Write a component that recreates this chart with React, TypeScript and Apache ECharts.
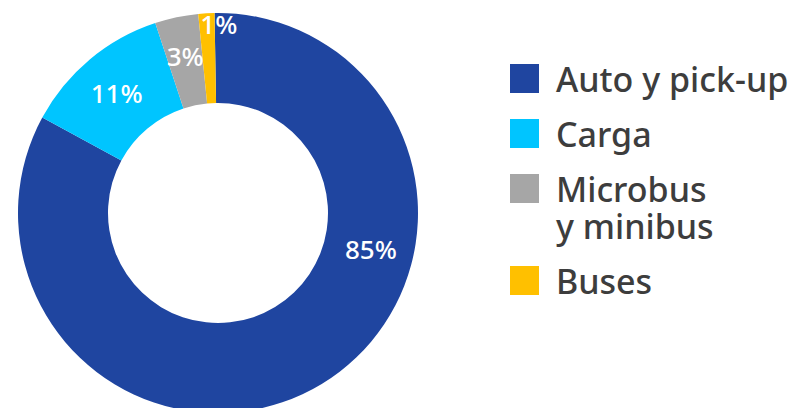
import React, { useEffect, useRef } from "react";
import * as echarts from "echarts";

const categories = ["Auto y pick-up", "Carga", "Microbus\ny minibus", "Buses"];
const shares = [83.2, 12.0, 3.5, 1.3];
const shareLabels = ["85%", "11%", "3%", "1%"];
const colors = ["#1F45A0", "#00C5FF", "#A6A6A6", "#FFC000"];
const labelShift = [
  [71, -99],
  [0, 1],
  [0, -2],
  [10, -31],
];

export default function App() {
  const ref = useRef<HTMLDivElement>(null);

  useEffect(() => {
    if (!ref.current) return;
    const chart = echarts.init(ref.current, undefined, { renderer: "svg" });

    const rich: Record<string, any> = {
      t: {
        fontSize: 34,
        fontFamily: "Noto Sans",
        fontWeight: 500,
        color: "#3d3d3d",
        lineHeight: 37,
      },
      g: { width: 17, height: 29, lineHeight: 37 },
      ind: { width: 46, height: 29, lineHeight: 37 },
    };
    colors.forEach((c, i) => {
      rich["sq" + i] = { width: 29, height: 29, backgroundColor: c, lineHeight: 37 };
    });

    chart.setOption({
      animation: false,
      backgroundColor: "#ffffff",
      legend: {
        orient: "vertical",
        left: 505,
        top: 60,
        padding: 0,
        itemWidth: 0,
        itemHeight: 0,
        itemGap: 18,
        selectedMode: false,
        data: categories,
        formatter: (name: string) => {
          const i = categories.indexOf(name);
          return name
            .split("\n")
            .map((l, k) => (k === 0 ? `{sq${i}|}{g|}{t|${l}}` : `{ind|}{t|${l}}`))
            .join("\n");
        },
        textStyle: { rich, lineHeight: 37, fontSize: 34, fontFamily: "Noto Sans" },
      },
      series: [
        {
          type: "pie",
          center: [218, 213],
          radius: [110, 200],
          startAngle: 91,
          clockwise: true,
          silent: true,
          avoidLabelOverlap: false,
          itemStyle: { borderWidth: 0 },
          label: {
            show: true,
            position: "inside",
            formatter: (p: any) => shareLabels[p.dataIndex],
            color: "#ffffff",
            fontSize: 26,
            fontWeight: 500,
            fontFamily: "Noto Sans",
          },
          labelLine: { show: false },
          labelLayout: (p: any) => ({
            dx: labelShift[p.dataIndex][0],
            dy: labelShift[p.dataIndex][1],
          }),
          data: categories.map((n, i) => ({
            name: n,
            value: shares[i],
            itemStyle: { color: colors[i] },
          })),
        },
      ],
    });

    return () => chart.dispose();
  }, []);

  return (
    <div
      ref={ref}
      style={{ position: "fixed", left: 0, top: 0, width: 798, height: 408, background: "#fff" }}
    />
  );
}
